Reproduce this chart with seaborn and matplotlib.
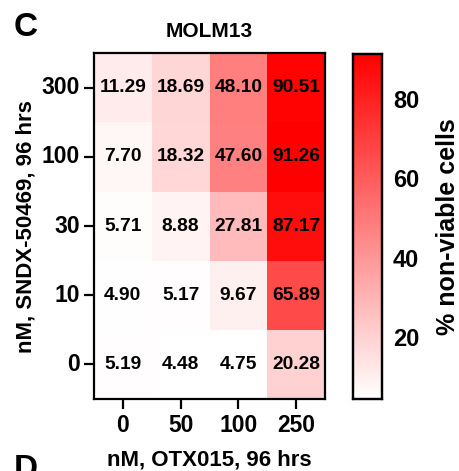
import numpy as np
import pandas as pd
import matplotlib
matplotlib.use("Agg")
import matplotlib.pyplot as plt
import seaborn as sns
from matplotlib.colors import LinearSegmentedColormap

# doses
otx_doses = ["0", "50", "100", "250"]
sndx_doses = ["300", "100", "30", "10", "0"]

# % non-viable cells, rows = SNDX dose (top to bottom), cols = OTX dose
row_300 = [11.29, 18.69, 48.10, 90.51]
row_100 = [7.70, 18.32, 47.60, 91.26]
row_30 = [5.71, 8.88, 27.81, 87.17]
row_10 = [4.90, 5.17, 9.67, 65.89]
row_0 = [5.19, 4.48, 4.75, 20.28]

cbar_ticks = [20, 40, 60, 80]

sns.set_theme(style="white")
plt.rcParams["font.family"] = ["Liberation Sans", "DejaVu Sans"]
plt.rcParams["font.weight"] = "bold"
for k in ["text.color", "axes.labelcolor", "xtick.color", "ytick.color"]:
    plt.rcParams[k] = "black"

df = pd.DataFrame([row_300, row_100, row_30, row_10, row_0],
                  index=sndx_doses, columns=otx_doses)

cmap = LinearSegmentedColormap.from_list("wr", ["#ffffff", "#ff0000"])

fig = plt.figure(figsize=(4.6, 4.71), dpi=100)
ax = fig.add_axes([0.204, 0.153, 0.503, 0.734])
cax = fig.add_axes([0.767, 0.153, 0.063, 0.732])

sns.heatmap(df, ax=ax, cbar_ax=cax, cmap=cmap,
            vmin=df.values.min(), vmax=df.values.max(),
            annot=True, fmt=".2f",
            annot_kws={"fontsize": 13.8, "fontweight": "bold", "color": "black"})

for s in ax.spines.values():
    s.set_visible(True)
    s.set_linewidth(1.6)
    s.set_color("black")

ax.tick_params(axis="both", which="major", length=7, width=1.6, color="black",
               labelsize=16.5, left=True, bottom=True)
ax.tick_params(axis="y", pad=3)
ax.tick_params(axis="x", pad=4)
ax.set_yticklabels(sndx_doses, rotation=0, fontweight="bold")
ax.set_xticklabels(otx_doses, rotation=0, fontweight="bold")
ax.set_xlabel("nM, OTX015, 96 hrs", fontsize=16, fontweight="bold", labelpad=9)
ax.set_ylabel("nM, SNDX-50469, 96 hrs", fontsize=16, fontweight="bold", labelpad=4)
ax.set_title("MOLM13", fontsize=15, fontweight="bold", pad=12)

cax.set_yticks(cbar_ticks)
cax.tick_params(axis="y", which="major", direction="in", length=4, width=1.6,
                labelsize=17, left=True, right=True, labelleft=False, labelright=True, pad=8)
for lbl in cax.get_yticklabels():
    lbl.set_fontweight("bold")
for s in cax.spines.values():
    s.set_visible(True)
    s.set_linewidth(1.6)
    s.set_color("black")
cax.set_ylabel("% non-viable cells", fontsize=18, fontweight="bold", labelpad=12)
cax.yaxis.set_label_position("right")

fig.text(0.03, 0.975, "C", fontsize=24, fontweight="bold", va="top", ha="left")
fig.text(0.03, -0.03, "D", fontsize=24, fontweight="bold", va="bottom", ha="left")

plt.savefig("out.png", dpi=100)
